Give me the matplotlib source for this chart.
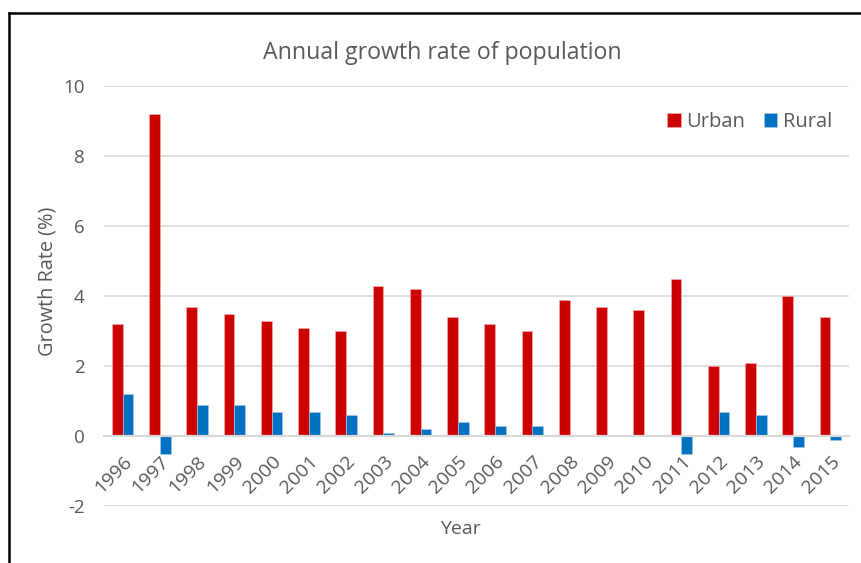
import matplotlib
matplotlib.use("Agg")
import matplotlib.pyplot as plt
import numpy as np
from matplotlib.lines import Line2D

plt.rcParams['font.family'] = ['Open Sans', 'DejaVu Sans']

years = ['1996', '1997', '1998', '1999', '2000', '2001', '2002', '2003', '2004', '2005',
         '2006', '2007', '2008', '2009', '2010', '2011', '2012', '2013', '2014', '2015']
urban = [3.2, 9.2, 3.7, 3.5, 3.3, 3.1, 3.0, 4.3, 4.2, 3.4,
         3.2, 3.0, 3.9, 3.7, 3.6, 4.5, 2.0, 2.1, 4.0, 3.4]
rural = [1.2, -0.5, 0.9, 0.9, 0.7, 0.7, 0.6, 0.08, 0.2, 0.4,
         0.3, 0.3, 0.0, 0.0, 0.0, -0.5, 0.7, 0.6, -0.3, -0.1]
yticks = [-2, 0, 2, 4, 6, 8, 10]

RED = '#CC0000'
BLUE = '#0070C0'
TXT = '#595959'
GRID = '#D9D9D9'

W, H = 862, 563
fig = plt.figure(figsize=(W / 100, H / 100), dpi=100)
ax = fig.add_axes([104 / W, 1 - 506 / H, (849 - 104) / W, (506 - 86) / H])

x = np.arange(len(years))
bw = 1 / 3.5
ax.bar(x - bw / 2, urban, width=bw, color=RED, edgecolor='#F2B8B8', linewidth=0.4,
       label='Urban', zorder=3)
ax.bar(x + bw / 2, rural, width=bw, color=BLUE, edgecolor='#A9CDEB', linewidth=0.4,
       label='Rural', zorder=3)

ax.set_xlim(-0.5, len(years) - 0.5)
ax.set_ylim(-2, 10)
ax.set_yticks(yticks)
ax.set_yticklabels([str(v) for v in yticks], color=TXT, fontsize=13.5)
ax.yaxis.grid(True, color=GRID, linewidth=1.2, zorder=0)
ax.set_axisbelow(True)

for s in ['top', 'right', 'left']:
    ax.spines[s].set_visible(False)
ax.spines['bottom'].set_position(('data', 0))
ax.spines['bottom'].set_color(GRID)
ax.spines['bottom'].set_linewidth(1.6)
ax.spines['bottom'].set_zorder(4)

ax.set_xticks(x)
ax.set_xticklabels(years, rotation=45, ha='right', va='top', rotation_mode='anchor',
                   color=TXT, fontsize=14)
ax.tick_params(axis='x', length=0, pad=12)
ax.tick_params(axis='y', length=0, pad=14)

fig.text(442 / W, 1 - 53 / H, 'Annual growth rate of population', ha='center', va='center',
         color=TXT, fontsize=16.7)
fig.text(48 / W, 1 - 281 / H, 'Growth Rate (%)', ha='center', va='center', rotation=90,
         color=TXT, fontsize=14.3)
fig.text(460 / W, 1 - 529 / H, 'Year', ha='center', va='center', color=TXT, fontsize=14)

leg = ax.legend(loc='upper right', bbox_to_anchor=(832 / W, 1 - 112 / H),
                bbox_transform=fig.transFigure, ncol=2, frameon=False, fontsize=14.5,
                handlelength=0.65, handleheight=0.65, handletextpad=0.3, columnspacing=0.9,
                borderaxespad=0, borderpad=0)
for t in leg.get_texts():
    t.set_color(TXT)

# outer frame on the left and top edges
fig.add_artist(Line2D([9.5 / W, 9.5 / W], [0, 1 - 12.5 / H], transform=fig.transFigure,
                      color='black', linewidth=1.8))
fig.add_artist(Line2D([9.5 / W, 1], [1 - 12.5 / H, 1 - 12.5 / H], transform=fig.transFigure,
                      color='black', linewidth=1.8))

fig.savefig('out.png', dpi=100, facecolor='white')
